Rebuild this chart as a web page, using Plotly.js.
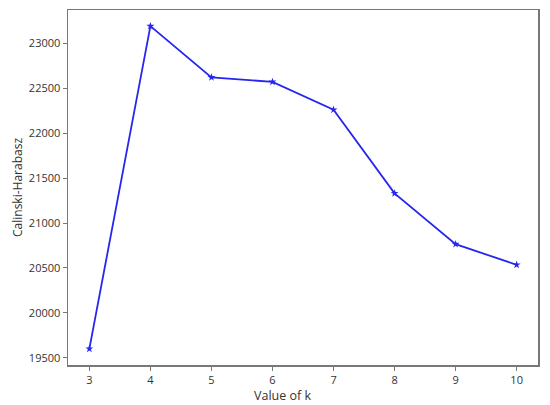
<!DOCTYPE html>
<html>
<head>
<meta charset="utf-8">
<script src="https://cdn.plot.ly/plotly-3.0.1.min.js"></script>
<style>html,body{margin:0;padding:0;background:#fff;}#chart{width:550px;height:405px;}</style>
</head>
<body>
<div id="chart"></div>
<script>
const kValues = [3, 4, 5, 6, 7, 8, 9, 10];
const chScores = [19600, 23190, 22620, 22570, 22260, 21330, 20765, 20535];
const yTicks = [19500, 20000, 20500, 21000, 21500, 22000, 22500, 23000];
const xTitle = 'Value of k';
const yTitle = 'Calinski-Harabasz';

const trace = {
  x: kValues,
  y: chScores,
  type: 'scatter',
  mode: 'lines+markers',
  line: {color: '#2626ee', width: 1.8},
  marker: {symbol: 'star', size: 6, color: '#2626ee'},
  hoverinfo: 'skip'
};

const axisCommon = {
  showgrid: false,
  zeroline: false,
  showline: true,
  linecolor: '#777',
  linewidth: 1.5,
  mirror: true,
  ticks: 'outside',
  ticklen: 4,
  tickwidth: 1,
  tickcolor: '#777',
  tickfont: {family: 'Open Sans, sans-serif', size: 11, color: '#333'}
};

const layout = {
  width: 550,
  height: 405,
  margin: {l: 68, r: 12, t: 10, b: 40},
  paper_bgcolor: '#fff',
  plot_bgcolor: '#fff',
  showlegend: false,
  xaxis: Object.assign({}, axisCommon, {
    range: [2.65, 10.35],
    tickvals: kValues,
    ticklabelstandoff: 0
  }),
  yaxis: Object.assign({}, axisCommon, {
    range: [19420.5, 23369.5],
    tickvals: yTicks,
    ticktext: yTicks.map(String),
    title: {text: yTitle, font: {family: 'Open Sans, sans-serif', size: 12, color: '#333'}, standoff: 3}
  }),
  annotations: [{
    text: xTitle,
    xref: 'paper', yref: 'paper',
    x: 0.457, y: 0,
    xanchor: 'center', yanchor: 'middle',
    yshift: -30.5,
    showarrow: false,
    font: {family: 'Open Sans, sans-serif', size: 12.5, color: '#333'}
  }]
};

Plotly.newPlot('chart', [trace], layout, {staticPlot: true, displayModeBar: false});
</script>
</body>
</html>
